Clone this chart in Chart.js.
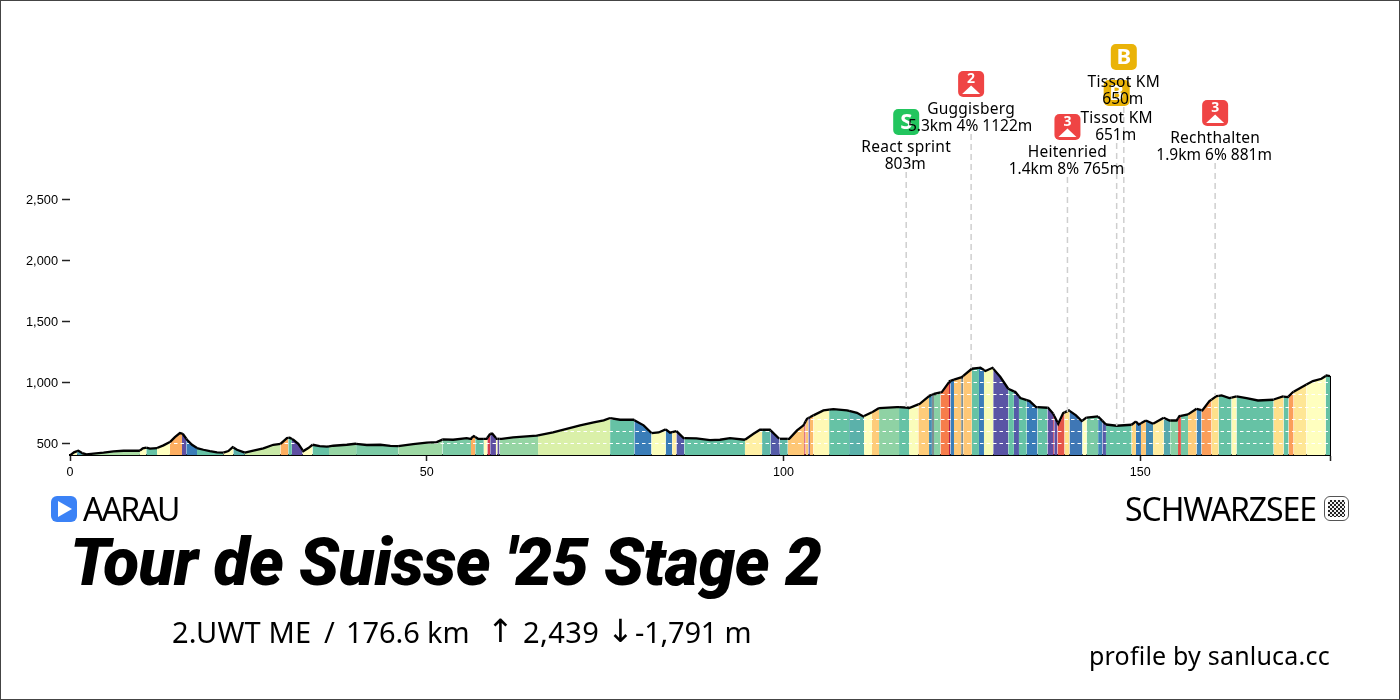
<!DOCTYPE html>
<html><head><meta charset="utf-8">
<script src="https://cdn.jsdelivr.net/npm/chart.js@4"></script>
<style>
html,body{margin:0;padding:0;background:#fff}
#page{position:relative;width:1400px;height:700px;box-sizing:border-box;border:1px solid #444;background:#fff;overflow:hidden}
#page canvas{position:absolute;left:-1px;top:-1px}
.t{position:absolute;white-space:nowrap;color:#000;font-family:"Noto Sans",sans-serif;line-height:1}
.t span{position:absolute;top:0}
.ar{font-family:"DejaVu Sans",sans-serif}
.icon{position:absolute;width:26px;height:26px;border-radius:6px;box-sizing:border-box}
</style></head><body>
<div id="page">
<canvas id="c" width="1400" height="700"></canvas>
<div class="icon" style="left:50px;top:495px;background:#3b82f6"><svg width="26" height="26"><polygon points="7,5 7,21 21,13" fill="#fff"/></svg></div>
<div class="t" style="left:82px;top:492px;font-size:32px;letter-spacing:-1.8px">AARAU</div>
<div class="t" data-fit="191" style="left:1124px;top:492px;font-size:32px">SCHWARZSEE</div>
<div class="icon" style="left:1323px;top:495px;border:1px solid #555;background:#fff;width:25px;height:25px"><div style="position:absolute;left:3px;top:3px;width:17px;height:17px;background:repeating-conic-gradient(#222 0 25%,#eee 0 50%) 0 0/4px 4px"></div></div>
<div class="t" style="left:69px;top:529px;font-family:Roboto,sans-serif;font-weight:900;font-style:italic;font-size:66px;letter-spacing:-.55px">Tour de Suisse '25 Stage 2</div>
<div class="t" style="left:171px;top:616px;font-size:29px;width:600px;height:32px"><span style="left:0;letter-spacing:.15px">2.UWT ME </span><span style="left:152px">/ </span><span style="left:174px;letter-spacing:-.1px">176.6 km </span><span class="ar" style="left:315px;font-size:32px;top:-2px">↑ </span><span style="left:351px;letter-spacing:.4px">2,439 </span><span class="ar" style="left:435px;font-size:32px;top:-2px">↓</span><span style="left:463px;letter-spacing:-.2px">-1,791 m</span></div>
<div class="t" style="left:1088px;top:642px;font-size:25px;letter-spacing:.2px">profile by sanluca.cc</div>
</div>
<script>
const profileKm = [
 0,0.56,1.17,1.73,2.3,3.3,4.7,6.1,7.5,9.8,
 10.2,10.7,11.2,12.2,13.1,14,14.7,15.4,15.8,16.4,
 17.1,17.8,18.7,19.6,20.6,21.5,22.2,22.8,23.4,24.5,
 25.7,27.1,28.5,29.5,30.4,30.8,31.3,32,32.7,33.4,
 34,35,36,36.9,38.8,40,41.6,43.5,44.9,46,
 48.1,50,51.4,52.3,53.7,55.6,56.1,56.6,57.2,58.4,
 58.9,59.2,59.8,60.5,62.1,65.4,67.7,69.6,71.5,73.4,
 74.8,75.7,77.1,79,80.4,81.5,82.5,83.5,84.1,85,
 86,87.8,89.7,91.1,92.5,94.6,95.8,96.7,98.1,99.4,
 100.8,101.9,102.8,103.3,104.2,105.6,107,108.9,110.3,111.2,
 112.6,113.4,115.9,117.7,119.1,120.5,121.2,122.2,123.3,125,
 126.4,127.6,128.3,129.3,130.4,131.5,132.5,133.2,134.5,135.4,
 137.1,137.8,138.5,139.2,140,141,141.8,142.4,144.1,145.2,
 146.7,148.8,149.4,149.8,150.8,151.8,153.3,154.1,155.1,155.5,
 156.7,157.9,158.7,159.7,160.7,161.4,162.5,163.5,164.9,166.5,
 168.6,170,170.7,171.4,173.3,174.2,175.4,176.1,176.6];
const profileElev = [
 400,425,438,419,408,414,422,433,438,438,
 457,463,455,460,482,509,550,583,577,528,
 487,460,446,435,425,422,435,468,446,422,
 438,457,487,495,542,545,528,495,435,460,
 487,476,471,479,487,495,485,487,478,476,
 493,504,509,531,528,542,536,558,536,536,
 577,577,536,536,547,561,588,618,646,670,
 687,706,692,692,646,583,588,613,586,599,
 542,539,525,528,542,528,577,610,610,536,
 536,605,646,700,728,769,779,769,749,719,
 760,788,796,790,823,891,905,919,1009,1042,
 1110,1118,1092,1118,1042,946,919,870,845,796,
 790,741,659,747,769,728,681,708,719,653,
 643,651,678,653,686,659,708,686,686,722,
 736,782,769,845,886,891,870,883,870,850,
 856,883,878,919,981,1009,1028,1055,1050];
const bandStartKm = [
 0,1,1.7,9.8,10.7,12.2,14,15.7,16.3,17.8,21.5,22.9,24.5,29.5,30.6,31.1,32.6,34,36.3,40.1,
 46,52.2,56.2,56.8,58,58.5,58.9,59.7,59.9,60.2,65.6,75.7,79.1,81.5,83.5,84.4,85,86.1,94.6,97,
 98.2,99.5,100.6,102.9,103.1,103.5,103.7,104.2,106.4,109.2,111.3,112.4,113.4,116.2,117.6,118.9,120.4,120.8,121.1,122,
 123.2,123.4,123.9,124.9,125.2,126.4,127.4,128.1,129.4,131.5,132.3,133,134.1,135.6,137,137.8,137.95,138.4,139.4,140.1,
 141.9,142.5,144.1,144.7,145.2,148.8,149.4,150.1,150.8,151.8,153.3,154.2,155.3,155.7,156.7,157.9,158.6,160,161,162.8,
 163.5,168.7,170.1,170.8,171.5,173.3,176];
const bandGrade = [
 3,-2,1,3,0,3,6,-8,-4,0,3,-1,1.5,6,0,-8,3,0,0.7,0.3,
 0.8,0.3,6,0,3,10,-8,3,-8,0.7,1.8,0,-4,2.8,-4,3.5,-7,0,3.5,-0.5,
 -7,-0.5,5,10,5,-8,5.5,3.2,0,-1,3,4.8,0.6,0,2.8,4.8,-3,null,0.5,7.5,
 11,-4,5,null,5,0,-4,2.6,-7.5,0,-7,0,-4,0,-8,11,-8,9,4,-4.5,
 3,0.3,-3.5,-7,0,4.5,-4,5,-3,3.6,-1.5,0.5,9,0.2,4.8,-3.5,6.5,4,0,3.2,
 0,4,0,6.5,3.8,3,0];
const gradeStops = [-8,-4,0,1,2,3,4,6,8,10,12];
const gradeColors = ['#5e4fa2','#3a7db8','#66c2a5','#abdda4','#e6f5aa','#ffffbf','#fee08b','#fdae61','#f46d43','#d53e4f','#9e0142'];
const contourLevels = [500,600,700,800,900,1000,1100];
const yTickValues = [500,1000,1500,2000,2500];
const xTickValues = [0,50,100,150,176.6];
const xLabelled = [0,50,100,150];
const markerKm = [126.3,117.2,139.8,146.7,147.7,160.5];
const markerElev = [1118,796,755,643,648,890];
const markerKind = ['2','S','3','B','B','3'];
const markerName = ['Guggisberg','React sprint','Heitenried','Tissot KM','Tissot KM','Rechthalten'];
const markerInfo = ['5.3km 4% 1122m','803m','1.4km 8% 765m','651m','650m','1.9km 6% 881m'];
const markerBadgeTop = [71,109,114,80,44,100];

document.querySelectorAll('[data-fit]').forEach(el=>{
  const w=el.getBoundingClientRect().width,n=el.textContent.length;
  el.style.letterSpacing=((+el.dataset.fit-w)/n)+'px';
});

const hex=h=>[1,3,5].map(i=>parseInt(h.substr(i,2),16));
function gradeColor(g){
  if(g===null) return '#808f92';
  if(g<=gradeStops[0]) return gradeColors[0];
  for(let i=1;i<gradeStops.length;i++){
    if(g<=gradeStops[i]){
      const f=(g-gradeStops[i-1])/(gradeStops[i]-gradeStops[i-1]);
      const a=hex(gradeColors[i-1]),b=hex(gradeColors[i]);
      return 'rgb('+a.map((v,k)=>Math.round(v+(b[k]-v)*f)).join(',')+')';
    }
  }
  return gradeColors[gradeColors.length-1];
}
function elevAt(km){
  for(let i=1;i<profileKm.length;i++){
    if(km<=profileKm[i]){
      const f=(km-profileKm[i-1])/(profileKm[i]-profileKm[i-1]);
      return profileElev[i-1]+(profileElev[i]-profileElev[i-1])*f;
    }
  }
  return profileElev[profileElev.length-1];
}
function bandAt(km){
  let k=0;
  for(let i=0;i<bandStartKm.length;i++){ if(km>=bandStartKm[i]) k=i; }
  return gradeColor(bandGrade[k]);
}
// Band edges become vertices of the same polyline so each colour change falls exactly on its edge.
const kms=[...new Set([...profileKm,...bandStartKm])].sort((a,b)=>a-b);
const lineData=kms.map(x=>({x,y:elevAt(x)}));

const FONT='"Noto Sans",sans-serif';
const deco={
  id:'deco',
  beforeDatasetDraw(chart,args){
    if(args.index!==0) return;
    const {ctx,scales:{x,y},chartArea:a}=chart;
    ctx.save();
    ctx.beginPath();
    ctx.moveTo(x.getPixelForValue(0),a.bottom);
    lineData.forEach(p=>ctx.lineTo(x.getPixelForValue(p.x),y.getPixelForValue(p.y)));
    ctx.lineTo(x.getPixelForValue(176.6),a.bottom);
    ctx.closePath();
    ctx.clip();
    ctx.strokeStyle='#fff';ctx.lineWidth=1.2;ctx.setLineDash([3.5,3]);
    contourLevels.forEach(l=>{
      const py=Math.round(y.getPixelForValue(l))+.5;
      ctx.beginPath();ctx.moveTo(a.left,py);ctx.lineTo(a.right,py);ctx.stroke();
    });
    ctx.restore();
  },
  afterDatasetsDraw(chart){
    const {ctx,scales:{x,y}}=chart;
    ctx.save();
    markerKm.forEach((km,i)=>{
      const px=x.getPixelForValue(km),top=markerBadgeTop[i];
      ctx.strokeStyle='#cfcfcf';ctx.lineWidth=1.5;ctx.setLineDash([6,4]);
      ctx.beginPath();ctx.moveTo(px,top+63);ctx.lineTo(px,y.getPixelForValue(markerElev[i]));ctx.stroke();
    });
    ctx.setLineDash([]);
    ctx.textAlign='center';ctx.textBaseline='middle';
    markerKm.forEach((km,i)=>{
      const px=x.getPixelForValue(km),top=markerBadgeTop[i],k=markerKind[i];
      const col=k==='S'?'#22c55e':k==='B'?'#eab308':'#ef4444';
      ctx.fillStyle=col;ctx.beginPath();ctx.roundRect(px-13,top,26,26,5);ctx.fill();
      ctx.fillStyle='#fff';
      if(k==='S'||k==='B'){
        ctx.font='700 22px '+FONT;ctx.fillText(k,px,top+13.5);
      }else{
        ctx.font='700 14px '+FONT;ctx.fillText(k,px,top+8.5);
        ctx.beginPath();ctx.moveTo(px-9,top+23);ctx.lineTo(px,top+14.5);ctx.lineTo(px+9,top+23);ctx.closePath();ctx.fill();
      }
    });
    markerKm.forEach((km,i)=>{
      const px=x.getPixelForValue(km),top=markerBadgeTop[i];
      ctx.fillStyle='#000';ctx.font='400 15.5px '+FONT;
      ctx.letterSpacing='.25px';
      ctx.fillText(markerName[i],px,top+39);
      ctx.letterSpacing='0px';
      ctx.fillText(markerInfo[i],px-1,top+56);
    });
    ctx.restore();
  }
};

new Chart(document.getElementById('c'),{
  type:'line',
  data:{datasets:[
    {data:lineData,parsing:false,borderColor:'#000',borderWidth:2.3,pointRadius:0,tension:0,clip:4,
     fill:'start',backgroundColor:'#66c2a5',
     segment:{backgroundColor:c=>bandAt((c.p0.parsed.x+c.p1.parsed.x)/2)}},
    {data:[{x:176.6,y:profileElev[profileElev.length-1]},{x:176.6,y:400}],parsing:false,borderColor:'#000',borderWidth:2,pointRadius:0,fill:false,clip:4}
  ]},
  plugins:[deco],
  options:{
    responsive:false,animation:false,devicePixelRatio:1,
    layout:{padding:{left:0,right:70,top:20,bottom:0}},
    plugins:{legend:{display:false},title:{display:false},tooltip:{enabled:false}},
    scales:{
      x:{type:'linear',min:0,max:176.6,
        afterFit:s=>{s.height=245},
        afterBuildTicks:s=>{s.ticks=xTickValues.map(v=>({value:v}))},
        border:{color:'#000',width:2},
        grid:{drawOnChartArea:false,drawTicks:true,tickLength:6,tickColor:'#222',tickWidth:1.5},
        ticks:{autoSkip:false,maxRotation:0,color:'#000',padding:4,font:{family:'"Liberation Sans"',size:12.5},
          callback:v=>xLabelled.includes(v)?String(v):''}},
      y:{type:'linear',min:403,max:3969,
        afterFit:s=>{s.width=70},
        afterBuildTicks:s=>{s.ticks=yTickValues.map(v=>({value:v}))},
        border:{display:false},
        grid:{drawOnChartArea:false,drawTicks:true,tickLength:8,tickColor:'#222',tickWidth:1.5},
        ticks:{color:'#000',padding:4,labelOffset:1,font:{family:'"Liberation Sans"',size:12.8},
          callback:v=>Number(v).toLocaleString('en-US')}}
    }
  }
});
</script>
</body></html>
